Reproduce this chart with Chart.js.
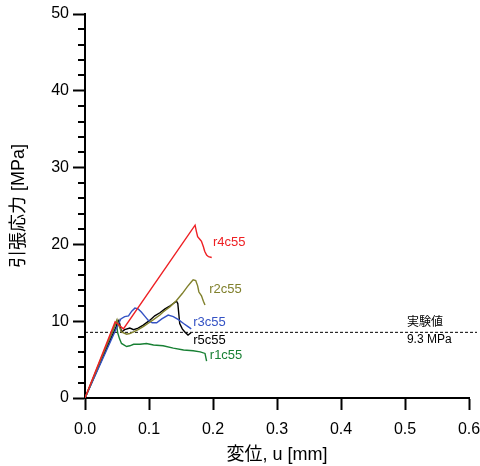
<!DOCTYPE html>
<html>
<head>
<meta charset="utf-8">
<script src="https://cdn.jsdelivr.net/npm/chart.js@4"></script>
<style>
  html, body { margin: 0; padding: 0; background: #fff; }
  #wrap { width: 480px; height: 466px; }
</style>
</head>
<body>
<div id="wrap"><canvas id="stressChart" width="480" height="466"></canvas></div>
<script>
// displacement u [mm] and tensile stress [MPa] for each specimen
const r4U = [0, 0.047, 0.053, 0.060, 0.172, 0.174, 0.176, 0.180, 0.182, 0.185, 0.187, 0.190, 0.193, 0.198];
const r4S = [0, 9.9, 9.5, 9.0, 22.5, 21.7, 21.0, 20.6, 20.4, 19.7, 19.1, 18.6, 18.4, 18.3];

const r2U = [0, 0.050, 0.052, 0.057, 0.065, 0.070, 0.076, 0.083, 0.091, 0.100, 0.107, 0.117, 0.122, 0.133, 0.143, 0.152, 0.160, 0.166, 0.169, 0.173, 0.176, 0.178, 0.182, 0.185, 0.1875];
const r2S = [0, 10.2, 9.6, 8.6, 8.3, 8.4, 8.6, 8.9, 9.3, 9.8, 10.2, 10.8, 11.2, 11.9, 12.7, 13.6, 14.5, 15.1, 15.4, 15.3, 14.6, 13.8, 13.3, 12.6, 12.1];

const r3U = [0, 0.052, 0.056, 0.062, 0.068, 0.073, 0.078, 0.083, 0.088, 0.094, 0.099, 0.105, 0.112, 0.120, 0.130, 0.138, 0.146, 0.154, 0.161, 0.166];
const r3S = [0, 9.6, 10.3, 10.6, 10.7, 11.3, 11.7, 11.6, 11.2, 10.6, 10.1, 9.8, 9.8, 10.3, 10.8, 10.6, 10.2, 9.7, 9.3, 9.0];

const r5U = [0, 0.053, 0.055, 0.057, 0.062, 0.070, 0.076, 0.083, 0.091, 0.101, 0.109, 0.117, 0.125, 0.133, 0.138, 0.143, 0.145, 0.148, 0.152, 0.156, 0.161, 0.1656];
const r5S = [0, 10.1, 9.4, 8.6, 8.9, 9.1, 8.9, 9.1, 9.5, 10.1, 10.7, 11.1, 11.6, 12.0, 12.3, 12.6, 12.3, 9.7, 9.0, 8.6, 8.2, 8.5];

const r1U = [0, 0.049, 0.051, 0.054, 0.057, 0.065, 0.070, 0.076, 0.086, 0.096, 0.107, 0.122, 0.138, 0.154, 0.169, 0.180, 0.1875, 0.190];
const r1S = [0, 9.9, 8.5, 7.7, 7.1, 6.7, 6.8, 7.0, 7.0, 7.1, 6.9, 6.8, 6.5, 6.25, 6.15, 6.0, 5.8, 4.8];

// experimental value line
const expU = [0, 0.6125];
const expS = [8.55, 8.55];

const seriesNames = ["r4c55", "r2c55", "r3c55", "r5c55", "r1c55"];
const xTicks = [0, 0.1, 0.2, 0.3, 0.4, 0.5, 0.6];
const yTicks = [0, 10, 20, 30, 40, 50];

const FONT = "'Liberation Sans', Arial, 'Noto Sans CJK JP', sans-serif";

function pts(us, ss) {
  return us.map((u, i) => ({ x: u, y: ss[i] }));
}

const colors = ["rgb(238,32,36)", "rgb(128,128,44)", "rgb(52,82,196)", "rgb(0,0,0)", "rgb(24,128,52)"];
const series = [pts(r4U, r4S), pts(r2U, r2S), pts(r3U, r3S), pts(r5U, r5S), pts(r1U, r1S)];

const datasets = series.map((d, i) => ({
  label: seriesNames[i],
  data: d,
  borderColor: colors[i],
  borderWidth: 1.4,
  pointRadius: 0,
  tension: 0,
  fill: false,
}));
datasets.push({
  label: "実験値",
  data: pts(expU, expS),
  borderColor: "#000",
  borderWidth: 1,
  borderDash: [3, 2],
  pointRadius: 0,
  clip: false,
});

// text next to the curves, placed in data units
const curveLabels = [
  { text: "r4c55", u: 0.200, s: 20.2, color: colors[0] },
  { text: "r2c55", u: 0.194, s: 14.1, color: colors[1] },
  { text: "r3c55", u: 0.169, s: 9.9, color: colors[2] },
  { text: "r5c55", u: 0.169, s: 7.55, color: colors[3] },
  { text: "r1c55", u: 0.195, s: 5.6, color: colors[4] },
];

const labelPlugin = {
  id: "labels",
  afterDatasetsDraw(chart) {
    const { ctx, scales: { x, y } } = chart;
    ctx.save();
    ctx.textBaseline = "middle";
    ctx.textAlign = "left";
    ctx.font = "13px " + FONT;
    curveLabels.forEach(l => {
      ctx.fillStyle = l.color;
      ctx.fillText(l.text, x.getPixelForValue(l.u), y.getPixelForValue(l.s));
    });
    ctx.fillStyle = "#000";
    ctx.font = "12px " + FONT;
    ctx.fillText("実験値", x.getPixelForValue(0.503), y.getPixelForValue(9.8));
    ctx.fillText("9.3 MPa", x.getPixelForValue(0.503), y.getPixelForValue(7.55));
    // minor y ticks
    ctx.strokeStyle = "#000";
    ctx.lineWidth = 2;
    y.ticks.forEach(t => {
      if (t.value % 10 !== 0) {
        const py = Math.round(y.getPixelForValue(t.value));
        ctx.beginPath();
        ctx.moveTo(x.left - 7, py);
        ctx.lineTo(x.left, py);
        ctx.stroke();
      }
    });
    ctx.restore();
  },
};

new Chart(document.getElementById("stressChart").getContext("2d"), {
  type: "line",
  data: { datasets },
  options: {
    responsive: false,
    animation: false,
    layout: { padding: { top: 14, right: 11, left: 0, bottom: 0 } },
    plugins: { legend: { display: false }, tooltip: { enabled: false } },
    scales: {
      x: {
        type: "linear",
        min: 0,
        max: 0.6,
        afterBuildTicks: (s) => { s.ticks = xTicks.map(v => ({ value: v })); },
        afterFit: (s) => { s.height = 68; s.paddingLeft = 0; s.paddingRight = 0; },
        border: { color: "#000", width: 2 },
        grid: { drawOnChartArea: false, tickLength: 12, tickColor: "#000", tickWidth: 2 },
        ticks: {
          color: "#000",
          padding: 10,
          font: { family: FONT, size: 16 },
          callback: (v) => v.toFixed(1),
        },
        title: {
          display: true,
          text: "変位, u [mm]",
          color: "#000",
          padding: { top: 0, bottom: 0 },
          font: { family: FONT, size: 18 },
        },
      },
      y: {
        type: "linear",
        min: 0,
        max: 50,
        afterBuildTicks: (s) => {
          const t = [];
          for (let v = 0; v <= 50; v += 2) t.push({ value: v });
          s.ticks = t;
        },
        afterFit: (s) => { s.width = 85; s.paddingTop = 0; s.paddingBottom = 0; },
        border: { color: "#000", width: 2 },
        grid: {
          drawOnChartArea: false,
          tickLength: 12,
          tickWidth: 2,
          tickColor: (c) => (c.tick && c.tick.value % 10 === 0 ? "#000" : "rgba(0,0,0,0)"),
        },
        ticks: {
          color: "#000",
          padding: 4,
          autoSkip: false,
          font: { family: FONT, size: 16 },
          callback: (v) => (yTicks.includes(v) ? String(v) : ""),
        },
        title: {
          display: true,
          text: "引張応力 [MPa]",
          color: "#000",
          padding: { top: 8, bottom: 0 },
          font: { family: FONT, size: 18 },
        },
      },
    },
  },
  plugins: [labelPlugin],
});
</script>
</body>
</html>
